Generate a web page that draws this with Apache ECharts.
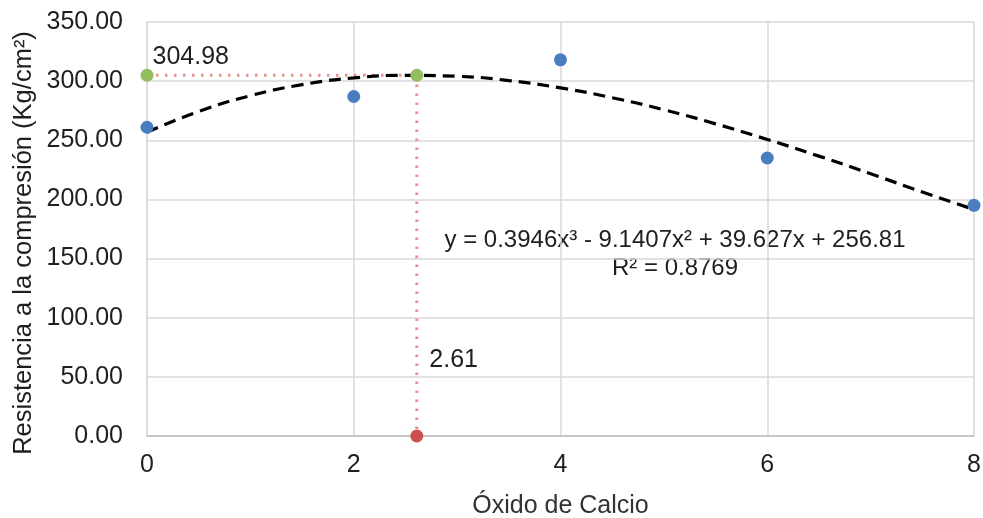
<!DOCTYPE html>
<html>
<head>
<meta charset="utf-8">
<script src="https://cdn.jsdelivr.net/npm/echarts@6/dist/echarts.min.js"></script>
<style>html,body{margin:0;padding:0;background:#fff;}#c{width:983px;height:518px;}</style>
</head>
<body>
<div id="c"></div>
<script>
// Measured points
var xValues = [0, 2, 4, 6, 8];
var yValues = [261, 287, 318, 235, 195];
// Trend line
var trendX = [0, 0.5, 1, 1.5, 2, 2.5, 3, 3.5, 4, 4.5, 5, 5.5, 6, 6.5, 7, 7.5, 8];
var trendY = [256.8, 274.4, 287.7, 297.0, 302.7, 304.9, 304.1, 300.5, 294.3, 286.0, 275.8, 263.9, 250.7, 236.6, 221.7, 206.3, 191.5];
// Optimum
var optX = 2.61;
var optY = 304.98;
var yTicks = [0, 50, 100, 150, 200, 250, 300, 350];
var xTicks = [0, 2, 4, 6, 8];

var font = 'Liberation Sans, Arial, sans-serif';
var fs = 25;
var txt = '#1f1f1f';
var chart = echarts.init(document.getElementById('c'));
chart.setOption({
  animation: false,
  grid: {left: 147, right: 9, top: 22, bottom: 82, outerBoundsMode: 'none', containLabel: false},
  xAxis: {
    type: 'value', min: 0, max: 8, interval: 2,
    name: 'Óxido de Calcio', nameLocation: 'middle', nameGap: 58,
    nameTextStyle: {fontFamily: font, fontSize: fs, color: '#333'},
    axisLine: {show: true, lineStyle: {color: '#bfbfbf', width: 1.5}},
    axisTick: {show: false},
    axisLabel: {fontFamily: font, fontSize: fs, color: txt, margin: 17},
    splitLine: {show: true, lineStyle: {color: '#d9d9d9', width: 1.5}}
  },
  yAxis: {
    type: 'value', min: 0, max: 350, interval: 50,
    axisLine: {show: true, lineStyle: {color: '#d9d9d9', width: 1.5}},
    axisTick: {show: false},
    axisLabel: {fontFamily: font, fontSize: fs, color: txt, margin: 24,
      formatter: function (v) { return v.toFixed(2); }},
    splitLine: {show: true, lineStyle: {color: '#d9d9d9', width: 1.5}}
  },
  series: [
    {
      type: 'line', data: trendX.map(function (x, i) { return [x, trendY[i]]; }),
      smooth: true, symbol: 'none', z: 3,
      lineStyle: {color: '#000', width: 3.2, type: [12, 7]}
    },
    {
      type: 'line', data: [[0, optY], [optX, optY], [optX, 0]],
      symbol: 'none', z: 2,
      lineStyle: {color: '#ee8f8f', width: 3, type: [2.5, 6.5]}
    },
    {
      type: 'scatter', symbolSize: 13, z: 4,
      itemStyle: {color: '#4a7dc0', opacity: 1},
      data: xValues.map(function (x, i) { return [x, yValues[i]]; })
    },
    {
      type: 'scatter', symbolSize: 13, z: 5,
      itemStyle: {color: '#94bd5e', opacity: 1},
      data: [
        {value: [0, optY], label: {show: true, position: 'right', offset: [-6, -18], opacity: 1,
          formatter: optY.toFixed(2), fontFamily: font, fontSize: fs, color: txt}},
        [optX, optY]
      ]
    },
    {
      type: 'scatter', symbolSize: 13, z: 5,
      itemStyle: {color: '#c9504b', opacity: 1},
      data: [
        {value: [optX, 0], label: {show: true, position: 'right', offset: [1, -76], opacity: 1,
          formatter: String(optX), fontFamily: font, fontSize: fs, color: txt}}
      ]
    }
  ],
  graphic: [
    {type: 'text', x: 24, y: 243, rotation: Math.PI / 2, style: {
      text: 'Resistencia a la compresión (Kg/cm²)', fontFamily: font, fontSize: 25.5,
      fill: txt, align: 'center', verticalAlign: 'middle'}},
    {type: 'text', x: 675, y: 240, style: {
      text: 'y = 0.3946x³ - 9.1407x² + 39.627x + 256.81', fontFamily: font, fontSize: 24,
      fill: txt, align: 'center', verticalAlign: 'middle'}},
    {type: 'text', x: 675, y: 268, style: {
      text: 'R² = 0.8769', fontFamily: font, fontSize: 24,
      fill: txt, align: 'center', verticalAlign: 'middle'}}
  ]
});
</script>
</body>
</html>
